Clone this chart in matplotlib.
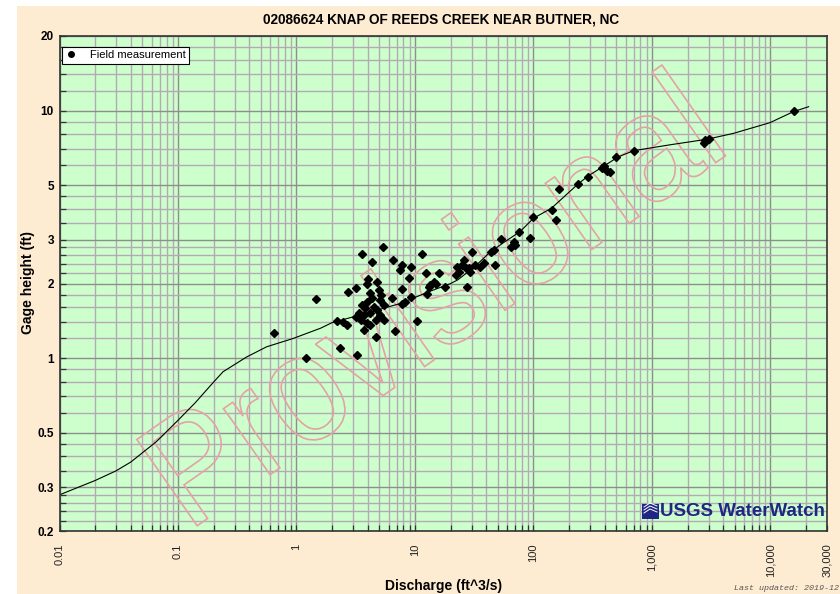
import matplotlib
matplotlib.use("Agg")
import matplotlib.pyplot as plt
from matplotlib.font_manager import FontProperties
from matplotlib.lines import Line2D
from matplotlib.patches import PathPatch, Rectangle
from matplotlib.textpath import TextPath
from matplotlib.ticker import FixedLocator, FixedFormatter, NullFormatter
from matplotlib.transforms import Affine2D

plt.rcParams["font.family"] = ["Liberation Sans", "DejaVu Sans"]

title = "02086624 KNAP OF REEDS CREEK NEAR BUTNER, NC"

# field measurements (discharge ft^3/s, gage height ft)
meas_q = [0.65, 1.2, 1.45, 2.35, 3.25, 2.2, 2.45, 2.65, 2.7, 3.2,
          3.6, 4.3, 5.4, 4.0, 4.8, 3.95, 3.7, 4.7, 6.5, 7.8,
          7.5, 9.3, 8.9, 7.7, 6.8, 10.3, 11.5, 6.4, 9.2, 8.3,
          7.8, 4.2, 4.35, 5.1, 5.45, 3.95, 4.5, 3.8, 4.8, 4.2,
          5.1, 3.7, 3.35, 3.5, 3.15, 4.65, 5.45, 3.9, 4.2, 4.95,
          5.2, 3.55, 12.7, 13.5, 14.4, 15.9, 12.3, 13.1, 14.9, 17.8,
          22.7, 23.4, 22.0, 25.8, 25.0, 26.7, 28.4, 29.4, 27.6, 30.4,
          32.4, 35.2, 38.1, 43.4, 46.2, 47.8, 52.7, 68.0, 70.5, 64.0,
          75.0, 94.0, 100, 144, 155, 165, 238, 288, 394, 419,
          380, 440, 498, 705, 2820, 3000, 2750, 15700]
meas_h = [1.26, 1.0, 1.73, 1.10, 1.03, 1.41, 1.40, 1.36, 1.85, 1.92,
          2.63, 2.45, 2.82, 2.09, 2.03, 1.99, 1.30, 1.22, 2.50, 2.38,
          2.27, 2.33, 2.11, 1.90, 1.29, 1.41, 2.63, 1.74, 1.77, 1.69,
          1.65, 1.83, 1.74, 1.72, 1.64, 1.69, 1.61, 1.59, 1.56, 1.52,
          1.49, 1.49, 1.52, 1.42, 1.46, 1.42, 1.42, 1.39, 1.36, 1.88,
          1.80, 1.64, 1.81, 1.97, 2.03, 2.20, 2.20, 1.93, 2.00, 1.93,
          2.34, 2.23, 2.17, 2.49, 2.38, 2.30, 2.30, 2.23, 1.94, 2.67,
          2.38, 2.34, 2.41, 2.69, 2.73, 2.38, 3.02, 2.95, 2.86, 2.82,
          3.24, 3.05, 3.72, 3.96, 3.61, 4.80, 5.05, 5.40, 5.97, 5.71,
          5.84, 5.66, 6.51, 6.86, 7.60, 7.69, 7.41, 9.95]

# rating curve
curve_q = [0.01, 0.02, 0.03, 0.04, 0.066, 0.1, 0.14, 0.2, 0.24, 0.38,
           0.56, 0.94, 1.6, 2.0, 3.4, 7.5, 13, 20, 23, 32,
           42, 55, 77, 100, 142, 238, 290, 390, 520, 700,
           1400, 2900, 4900, 9900, 15600, 21000]
curve_h = [0.28, 0.32, 0.35, 0.38, 0.46, 0.56, 0.66, 0.80, 0.88, 1.01,
           1.11, 1.20, 1.32, 1.39, 1.49, 1.66, 1.85, 2.0, 2.07, 2.34,
           2.65, 2.91, 3.24, 3.67, 4.03, 5.05, 5.44, 5.95, 6.5, 6.88,
           7.26, 7.65, 8.09, 8.93, 9.89, 10.36]

x_ticks = [0.01, 0.1, 1, 10, 100, 1000, 10000, 30000]
x_labels = ["0.01", "0.1", "1", "10", "100", "1,000", "10,000", "30,000"]
y_ticks = [0.2, 0.3, 0.5, 1, 2, 3, 5, 10, 20]
y_labels = ["0.2", "0.3", "0.5", "1", "2", "3", "5", "10", "20"]
y_minor_steps = [1.2, 1.4, 1.6, 1.8, 2.2, 2.4, 2.6, 2.8, 3.5, 4, 4.5, 6, 7, 8, 9]

W, H = 840, 594
fig = plt.figure(figsize=(W / 100, H / 100), dpi=100)
fig.patch.set_facecolor("white")
fig.add_artist(Rectangle((17 / W, 0), 1, 1 - 6 / H, transform=fig.transFigure,
                         facecolor="#fdebd2", edgecolor="none", zorder=-10))

ax = fig.add_axes([59.5 / W, 63 / H, (827 - 59.5) / W, (531 - 36) / H])
ax.set_facecolor("#ccffcc")
ax.set_xscale("log")
ax.set_yscale("log")
ax.set_xlim(0.01, 30000)
ax.set_ylim(0.2, 20)

x_minor = [m * 10.0 ** e for e in range(-2, 5) for m in range(2, 10) if m * 10.0 ** e < 30000]
y_minor = [s * d for d in (0.1, 1, 10) for s in y_minor_steps if 0.2 < s * d < 20]

ax.xaxis.set_major_locator(FixedLocator(x_ticks))
ax.xaxis.set_major_formatter(FixedFormatter(x_labels))
ax.xaxis.set_minor_locator(FixedLocator(x_minor))
ax.xaxis.set_minor_formatter(NullFormatter())
ax.yaxis.set_major_locator(FixedLocator(y_ticks))
ax.yaxis.set_major_formatter(FixedFormatter(y_labels))
ax.yaxis.set_minor_locator(FixedLocator(y_minor))
ax.yaxis.set_minor_formatter(NullFormatter())

ax.grid(which="major", color="#8e8e8e", lw=1.0)
ax.grid(which="minor", color="#b4aab4", lw=1.0)
ax.tick_params(which="both", direction="in", length=4, width=0.9, color="#333333")
ax.tick_params(axis="x", which="major", labelsize=8, labelrotation=90, pad=9, labelcolor="#222222")
ax.tick_params(axis="y", which="major", labelsize=8.5, pad=4)
for lab in ax.get_yticklabels():
    lab.set_fontweight("bold")
for sp in ax.spines.values():
    sp.set_color("#333333")
    sp.set_linewidth(1.2)

# watermark: outlined text, slightly taller than wide, drawn in pixel space
tp = TextPath((0, 0), "Provisional", size=1, prop=FontProperties(family="Liberation Sans"))
bb = tp.get_extents()
wm_tr = (Affine2D()
         .translate(-(bb.x0 + bb.x1) / 2, -(bb.y0 + bb.y1) / 2)
         .scale(136, 153)
         .rotate_deg(35)
         .translate(430, H - 296))
ax.add_patch(PathPatch(tp, transform=wm_tr, facecolor="none", edgecolor="#e4a2a6",
                       lw=1.2, zorder=1.8))

ax.plot(curve_q, curve_h, color="black", lw=0.8, zorder=2)
ax.plot(meas_q, meas_h, "D", color="black", ms=4.2, zorder=3)

handle = Line2D([], [], marker="o", color="black", ls="none", ms=4)
leg = ax.legend([handle], ["Field measurement"], loc="upper left",
                bbox_to_anchor=(62 / W, 1 - 47 / H), bbox_transform=fig.transFigure,
                borderaxespad=0, fontsize=8, fancybox=False, edgecolor="black",
                framealpha=1, borderpad=0.3, handlelength=1.0, handletextpad=1.2)
leg.get_frame().set_linewidth(0.8)

fig.text(441 / W, 1 - 20 / H, title, ha="center", va="center", fontsize=9.8, fontweight="bold")
fig.text(444 / W, 1 - 586 / H, "Discharge (ft^3/s)", ha="center", va="center",
         fontsize=10, fontweight="bold")
fig.text(28 / W, 1 - 283 / H, "Gage height (ft)", ha="center", va="center",
         rotation=90, fontsize=10, fontweight="bold")
fig.text(734 / W, 1 - 589 / H, "Last updated: 2019-12", ha="left", va="center",
         fontsize=6, family="Liberation Mono", style="italic", color="#555555")

# USGS WaterWatch logo
navy = "#1f2684"
fig.add_artist(Rectangle((642 / W, 1 - 519 / H), 17 / W, 15 / H, transform=fig.transFigure,
                         facecolor=navy, edgecolor="none", zorder=5))
for k in range(3):
    y0 = 1 - (508 + 3 * (k - 1)) / H
    fig.add_artist(Line2D([644 / W, 650 / W, 657 / W], [y0 - 2 / H, y0 + 2 / H, y0 - 1 / H],
                          transform=fig.transFigure, color="white", lw=0.7, zorder=6))
fig.text(660 / W, 1 - 511 / H, "USGS WaterWatch", ha="left", va="center",
         fontsize=13.5, fontweight="bold", color=navy)

fig.savefig("out.png", dpi=100)
